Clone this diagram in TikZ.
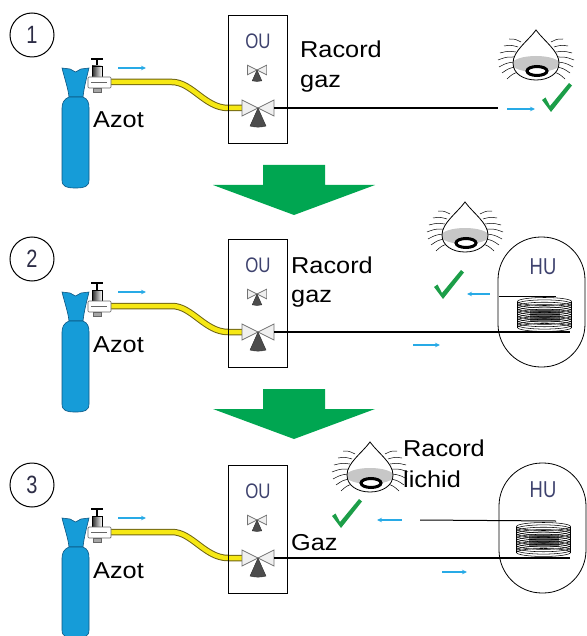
\documentclass[tikz,border=0pt]{standalone}
\usepackage{fontspec}
\setmainfont{Liberation Sans}[FakeStretch=1.1]
\newfontfamily\narrowfont{Liberation Sans}[FakeStretch=0.8]
\usetikzlibrary{arrows.meta}

\definecolor{cyl}{RGB}{22,156,216}
\definecolor{cylline}{RGB}{12,86,130}
\definecolor{hose}{RGB}{246,232,20}
\definecolor{hoseedge}{RGB}{110,100,20}
\definecolor{flow}{RGB}{40,170,230}
\definecolor{okgreen}{RGB}{28,158,72}
\definecolor{stepgreen}{RGB}{0,166,81}
\definecolor{unittext}{RGB}{62,66,110}
\definecolor{numtext}{RGB}{45,45,70}

\tikzset{
  lbl/.style={font=\fontsize{23}{28}\selectfont, inner sep=0pt, anchor=base west},
  unitlbl/.style={font=\narrowfont\fontsize{21}{24}\selectfont, text=unittext, inner sep=0pt},
  stepnum/.style={circle, draw, line width=1pt, minimum size=44pt, inner sep=0pt,
    font=\narrowfont\fontsize{25}{25}\selectfont, text=numtext},
  unitbox/.style={draw, line width=0.9pt, minimum width=59pt, minimum height=128pt, inner sep=0pt},
  hubox/.style={draw, line width=0.8pt, rounded corners=43pt, minimum width=87pt,
    minimum height=130pt, inner sep=0pt},
  flowarrow/.style={draw=flow, line width=1.3pt, -{Stealth[length=5pt,width=4.5pt]}},
  pipe/.style={draw=black, line width=2pt},
  thinpipe/.style={draw=black, line width=1pt},
  hoseline/.style={draw=hoseedge, line width=1pt, double=hose, double distance=4.5pt},
  bigstep/.style={fill=stepgreen},
  % nitrogen bottle, origin at top-left of the cap
  gasbottle/.pic={
    \filldraw[fill=cyl, draw=cylline, line width=0.6pt]
      (0,0) -- (8,1) -- (13.5,4) -- (19,1) -- (27,0)
      .. controls (24,12) and (22,20) .. (21,29) -- (7,29)
      .. controls (6,20) and (3,12) .. (0,0) -- cycle;
    \filldraw[fill=cyl, draw=cylline, line width=0.6pt]
      (7,29) -- (21,29) .. controls (26,31) and (27,35) .. (27,40) -- (27,112)
      .. controls (27,119) and (22,120) .. (13.5,120)
      .. controls (5,120) and (0,119) .. (0,112) -- (0,40)
      .. controls (0,35) and (2,31) .. (7,29) -- cycle;
  },
  % bottle tap, origin at top of the handle
  bottletap/.pic={
    \draw[line width=1.8pt] (-6,1) -- (6,1);
    \draw[line width=1.6pt] (0,1) -- (0,8);
    \shadedraw[left color=black!85, right color=white, draw=black, line width=0.5pt]
      (-5,8) rectangle (5,20);
    \filldraw[fill=white, draw=black!60, line width=0.7pt, rounded corners=1pt]
      (-9,19) rectangle (14,30);
    \draw[black!60, line width=0.6pt] (-6,24) -- (10,24);
    \filldraw[fill=black!35, draw=black!60, line width=0.5pt] (-4,30) rectangle (4,34);
  },
  % three-way valve, origin at the junction
  threeway/.pic={
    \filldraw[fill=black!6, draw=black!55, line width=0.7pt] (-16,-8) -- (-16,8) -- (0,0) -- cycle;
    \filldraw[fill=black!6, draw=black!55, line width=0.7pt] (16,-8) -- (16,8) -- (0,0) -- cycle;
    \filldraw[fill=black!70, draw=black!80, line width=0.4pt]
      (0,0) -- (-8,18) .. controls (-3,19.5) and (3,19.5) .. (8,18) -- cycle;
  },
  % eye looking at the joint
  eye/.pic={
    \foreach \ax/\ay/\bx/\by in {15/-13/27/-16, 18/-8/32/-9, 20/-3/36/-2, 22/2/38/5,
                                 22/7/37/12, 21/12/34/18, 18/17/29/24}{
      \draw[line width=0.5pt] (-\ax,\ay) .. controls (-\ax/2-\bx/2,\ay/2+\by/2-1.5) .. (-\bx,\by);
      \draw[line width=0.5pt] (\ax,\ay) .. controls (\ax/2+\bx/2,\ay/2+\by/2-1.5) .. (\bx,\by);
    }
    \fill[white] (0,-25) .. controls (-8,-14) and (-23,-4) .. (-23,8)
      .. controls (-23,19) and (-12,25) .. (0,25) .. controls (12,25) and (23,19) .. (23,8)
      .. controls (23,-4) and (8,-14) .. (0,-25) -- cycle;
    \begin{scope}
      \clip (0,-25) .. controls (-8,-14) and (-23,-4) .. (-23,8)
        .. controls (-23,19) and (-12,25) .. (0,25) .. controls (12,25) and (23,19) .. (23,8)
        .. controls (23,-4) and (8,-14) .. (0,-25) -- cycle;
      \fill[black!22] (0,9) ellipse (24 and 8);
    \end{scope}
    \filldraw[fill=white, draw=black, line width=3pt] (1,16) ellipse (10 and 4.5);
    \draw[line width=0.8pt] (0,-25) .. controls (-8,-14) and (-23,-4) .. (-23,8)
      .. controls (-23,19) and (-12,25) .. (0,25) .. controls (12,25) and (23,19) .. (23,8)
      .. controls (23,-4) and (8,-14) .. (0,-25) -- cycle;
  },
  % check mark, origin at its lower point
  tick/.pic={
    \fill[okgreen] (-8,-12) -- (-4.5,-14.5) -- (0,-6) -- (19,-29) -- (22,-26.5) -- (1,0) -- cycle;
  },
  % heat exchanger coil
  coil/.pic={
    \fill[white] (-27,-13) rectangle (27,13);
    \fill[white] (0,-13) ellipse (27 and 4);
    \fill[white] (0,13) ellipse (27 and 4);
    \fill[black!55] (-15,-5) rectangle (15,6);
    \foreach \k in {0,...,11}{
      \draw[line width=0.55pt] (0,-13+\k*2.36) ellipse (27 and 4);
    }
    \draw[line width=0.8pt] (-27,-13) -- (-27,13) (27,-13) -- (27,13);
  },
}

\begin{document}
\begin{tikzpicture}[x=1pt,y=-1pt]
\useasboundingbox (0,0) rectangle (586,636);

% the part common to the three steps
\foreach \i/\dy in {1/0,2/224,3/450}{
  \begin{scope}[shift={(0,\dy)}]
    \node[stepnum] (num\i) at (32,35) {\i};
    \pic at (62,68) {gasbottle};
    \node[lbl] (azot\i) at (93,128) {Azot};
    \coordinate (hs\i) at (110,82);
    \coordinate (he\i) at (243,108);
    \draw[hoseline] (hs\i) -- ++(62,0) .. controls +(20,0) and +(-23,0) .. ++(56,26) -- (he\i);
    \pic at (97,58) {bottletap};
    \coordinate (fa\i) at (118,68);
    \coordinate (fb\i) at (146,68);
    \draw[flowarrow] (fa\i) -- (fb\i);
    \node[unitbox] (ou\i) at (257.5,79) {};
    \node[unitlbl] (oulbl\i) at (258,41) {OU};
    \pic[scale=0.6] at (257,70) {threeway};
    \coordinate (tw\i) at (258,108);
    \coordinate (twout\i) at (274,108);
  \end{scope}
}
\foreach \i in {1,2,3}{ \pic at (tw\i) {threeway}; }

% step arrows
\fill[bigstep] (263,165) -- (325,165) -- (325,185) -- (375,185) -- (294,215) -- (213,185) -- (263,185) -- cycle;
\fill[bigstep] (263,389) -- (325,389) -- (325,409) -- (375,409) -- (294,439) -- (213,409) -- (263,409) -- cycle;

% step 1: gas joint checked
\node[lbl] (rg1a) at (300,58) {Racord};
\node[lbl] (rg1b) at (300,88) {gaz};
\coordinate (end1) at (498,108);
\draw[pipe, line width=2.6pt] (twout1) -- (end1);
\coordinate (f1a) at (507,109);
\coordinate (f1b) at (535,109);
\draw[flowarrow] (f1a) -- (f1b);
\pic at (536,55) {eye};
\pic at (550,112) {tick};

% step 2: gas joint checked with the indoor unit fitted
\node[hubox] (hu2) at (541.5,302) {};
\node[unitlbl, font=\narrowfont\fontsize{23}{24}\selectfont] (hulbl2) at (543,267) {HU};
\pic at (544.5,314.5) {coil};
\coordinate (cb2) at (570,332);
\coordinate (ct2) at (556,296);
\coordinate (hin2) at (499,296);
\draw[pipe] (twout2) -- (cb2);
\draw[thinpipe] (hin2) -- (ct2);
\node[lbl] (rg2a) at (291,273) {Racord};
\node[lbl] (rg2b) at (291,302) {gaz};
\coordinate (f2a) at (413,345);
\coordinate (f2b) at (440,345);
\draw[flowarrow] (f2a) -- (f2b);
\coordinate (f2c) at (490,294);
\coordinate (f2d) at (467,294);
\draw[flowarrow] (f2c) -- (f2d);
\pic at (465,227) {eye};
\pic at (442,299) {tick};

% step 3: liquid joint checked
\node[hubox] (hu3) at (542.5,528) {};
\node[unitlbl, font=\narrowfont\fontsize{23}{24}\selectfont] (hulbl3) at (543,490) {HU};
\pic at (543.5,539.5) {coil};
\coordinate (cb3) at (570,558);
\coordinate (ct3) at (556,521);
\coordinate (lq3) at (420,520);
\draw[pipe] (twout3) -- (cb3);
\draw[thinpipe] (lq3) -- (ct3);
\node[lbl] (gz3) at (291,550) {Gaz};
\node[lbl] (rl3a) at (403,456) {Racord};
\node[lbl] (rl3b) at (403,487) {lichid};
\coordinate (f3a) at (442,572);
\coordinate (f3b) at (467,572);
\draw[flowarrow] (f3a) -- (f3b);
\coordinate (f3c) at (402,520);
\coordinate (f3d) at (377,520);
\draw[flowarrow] (f3c) -- (f3d);
\pic at (370,467) {eye};
\pic at (340,528) {tick};
\end{tikzpicture}
\end{document}
